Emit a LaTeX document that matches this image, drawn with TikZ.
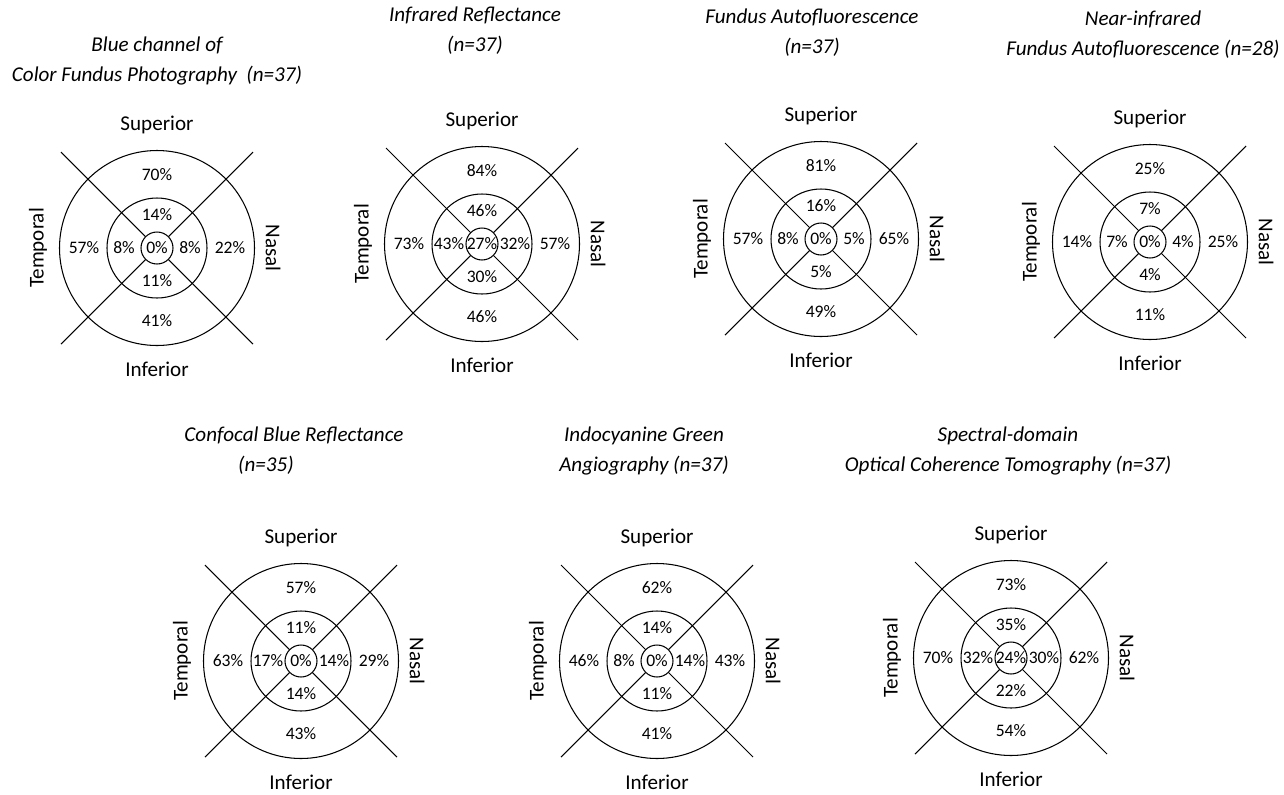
\documentclass[tikz,border=0pt]{standalone}
\usepackage{fontspec}
\setmainfont{Carlito}
\usepackage{tikz}

\tikzset{
  ring/.style={line width=0.6pt},
  pct/.style={font=\fontsize{10}{12}\selectfont, inner sep=0pt},
  side/.style={font=\fontsize{12}{14}\selectfont, inner sep=0pt},
  caption/.style={font=\fontsize{12}{17}\selectfont\itshape, align=center, inner sep=0pt},
}

\begin{document}
\begin{tikzpicture}
\useasboundingbox (0,0) rectangle (25.68,-15.9);

% titles
\node[caption] (t1) at (3.14,-1.22) {Blue channel of\\Color Fundus Photography~ (n=37)};
\node[caption] (t2) at (9.50,-0.62) {Infrared Reflectance\\(n=37)};
\node[caption] (t3) at (16.24,-0.66) {Fundus Autofluorescence\\(n=37)};
\node[caption] (t4) at (22.86,-0.70) {Near-infrared\\Fundus Autofluorescence (n=28)};
\node[caption] (t5) at (5.88,-9.02) {Confocal Blue Reflectance\\(n=35)\hspace*{1.12cm}};
\node[caption] (t6) at (12.88,-9.02) {Indocyanine Green\\Angiography (n=37)};
\node[caption] (t7) at (20.16,-9.02) {Spectral-domain\\Optical Coherence Tomography (n=37)};

% one chart: centre / superior, temporal, nasal, inferior (outer ring), the same (middle ring), centre
\foreach \n/\cx/\cy/\so/\to/\no/\io/\sm/\tm/\nm/\im/\cc in {
    1/3.14/-4.96/70/57/22/41/14/8/8/11/0,
    2/9.64/-4.88/84/73/57/46/46/43/32/30/27,
    3/16.42/-4.78/81/57/65/49/16/8/5/5/0,
    4/23.00/-4.84/25/14/25/11/7/7/4/4/0,
    5/6.02/-13.22/57/63/29/43/11/17/14/14/0,
    6/13.14/-13.22/62/46/43/41/14/8/14/11/0,
    7/20.22/-13.16/73/70/62/54/35/32/30/22/24}
{
  \begin{scope}[shift={(\cx,\cy)}]
    \coordinate (c\n) at (0,0);
    \coordinate (nw\n) at (-1.92,1.92);
    \coordinate (ne\n) at (1.92,1.92);
    \coordinate (sw\n) at (-1.92,-1.92);
    \coordinate (se\n) at (1.92,-1.92);
    \draw[ring] (c\n) circle (1.95);
    \draw[ring] (c\n) circle (1.0);
    \draw[ring] (nw\n) -- (se\n);
    \draw[ring] (ne\n) -- (sw\n);
    \draw[ring, fill=white] (c\n) circle (0.32);

    \node[side] (sup\n) at (0,2.46) {Superior};
    \node[side] (inf\n) at (0,-2.42) {Inferior};
    \node[side, rotate=90] (tem\n) at (-2.38,0) {Temporal};
    \node[side, rotate=-90] (nas\n) at (2.32,0) {Nasal};

    \node[pct] (so\n) at (0,1.46) {\so\%};
    \node[pct] (to\n) at (-1.46,0) {\to\%};
    \node[pct] (no\n) at (1.46,0) {\no\%};
    \node[pct] (io\n) at (0,-1.46) {\io\%};
    \node[pct] (sm\n) at (0,0.66) {\sm\%};
    \node[pct] (tm\n) at (-0.66,0) {\tm\%};
    \node[pct] (nm\n) at (0.66,0) {\nm\%};
    \node[pct] (im\n) at (0,-0.66) {\im\%};
    \node[pct] (cc\n) at (0,0) {\cc\%};
  \end{scope}
}
\end{tikzpicture}
\end{document}
